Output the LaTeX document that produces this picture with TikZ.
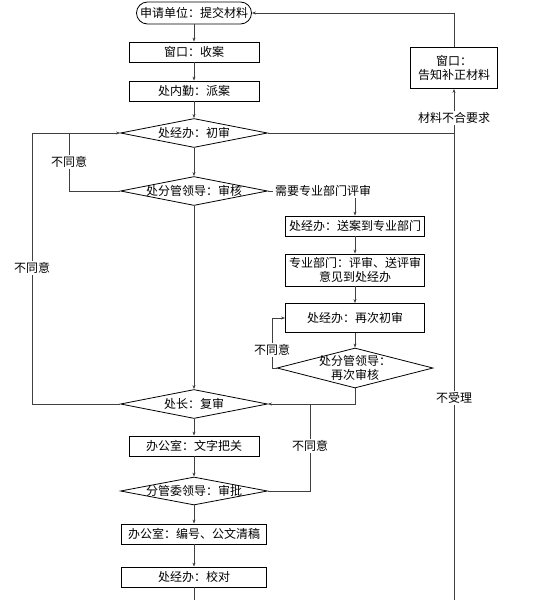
\documentclass[tikz,border=0pt]{standalone}
\usepackage{fontspec}
\newfontfamily\cjk{Noto Sans CJK SC}
\usetikzlibrary{shapes.geometric,arrows.meta}
\begin{document}
\begin{tikzpicture}[x=1pt,y=-1pt,
  every node/.style={font=\cjk\fontsize{12}{14}\selectfont,inner sep=0pt},
  box/.style={draw,thick,minimum height=20pt},
  lbl/.style={fill=white,inner sep=1pt},
  line/.style={draw=black!75,thick},
  arr/.style={line,-{Stealth[length=4pt,width=3pt]}}]
\fill[white] (0,0) rectangle (547,600);
\useasboundingbox (0,0) rectangle (547,600);
\node[draw,thick,rounded corners=11pt,minimum width=115pt,minimum height=22pt] (s) at (194,13) {申请单位：提交材料};
\node[box,minimum width=130pt] (w) at (194,52) {窗口：收案};
\node[box,minimum width=130pt] (n) at (194,91) {处内勤：派案};
\node[draw,thick,shape=diamond,minimum width=147pt,minimum height=29pt,inner sep=0pt] (c1) at (194,133) {};
\node at (194,133) {处经办：初审};
\node[draw,thick,shape=diamond,minimum width=147pt,minimum height=29pt] (c2) at (194,191) {};
\node at (194,191) {处分管领导：审核};
\node[box,minimum width=139pt] (p1) at (355,226) {处经办：送案到专业部门};
\node[box,minimum width=139pt,minimum height=32pt,align=center] (p2) at (355,270) {专业部门：评审、送评审\\意见到处经办};
\node[box,minimum width=139pt,minimum height=29pt] (p3) at (355,318) {处经办：再次初审};
\node[draw,thick,shape=diamond,minimum width=156pt,minimum height=40pt] (p4) at (355,368) {};
\node[align=center] at (355,368) {处分管领导：\\再次审核};
\node[draw,thick,shape=diamond,minimum width=147pt,minimum height=29pt] (c3) at (194,404) {};
\node at (194,404) {处长：复审};
\node[box,minimum width=130pt] (b1) at (194,446) {办公室：文字把关};
\node[draw,thick,shape=diamond,minimum width=147pt,minimum height=28pt] (c4) at (194,491) {};
\node at (194,491) {分管委领导：审批};
\node[box,minimum width=145pt] (b2) at (194,534) {办公室：编号、公文清稿};
\node[box,minimum width=145pt] (b3) at (194,577) {处经办：校对};
\node[box,minimum width=87pt,minimum height=41pt,align=center] (r) at (454,68) {窗口：\\告知补正材料};
\coordinate (bot) at (194,600);
\coordinate (rb) at (454,600);
\draw[arr] (s) -- (w);
\draw[arr] (w) -- (n);
\draw[arr] (n) -- (c1.north);
\draw[arr] (c1.south) -- (c2.north);
\draw[arr] (c2.south) -- (c3.north);
\draw[arr] (c3.south) -- (b1);
\draw[arr] (b1) -- (c4.north);
\draw[arr] (c4.south) -- (b2);
\draw[arr] (b2) -- (b3);
\draw[line] (b3) -- (bot);
\draw[line] (c1.east) -- (454,133);
\draw[line] (rb) -- (454,133);
\draw[arr] (454,133) -- (r.south);
\draw[arr] (r.north) |- (s.east);
\node[lbl] at (454,118) {材料不合要求};
\node[lbl] at (454,398) {不受理};
\draw[arr] (c3.west) -- (32,404) |- (c1.west);
\node[lbl] at (32,268) {不同意};
\draw[line] (c2.west) -- (69,191) -- (69,133);
\node[lbl] at (69,162) {不同意};
\draw[line] (c2.east) -- (355,191);
\node[lbl,inner xsep=2pt] (need) at (323,191) {需要专业部门评审};
\draw[arr] (355,198) -- (p1);
\draw[arr] (p1) -- (p2);
\draw[arr] (p2) -- (p3);
\draw[arr] (p3) -- (p4.north);
\draw[arr] (p4.west) -- (272,368) |- (p3.west);
\node[lbl] at (272,350) {不同意};
\draw[arr] (p4.south) |- (c3.east);
\draw[line] (c4.east) -- (310,491) -- (310,404);
\node[lbl] at (310,446) {不同意};
\end{tikzpicture}
\end{document}
